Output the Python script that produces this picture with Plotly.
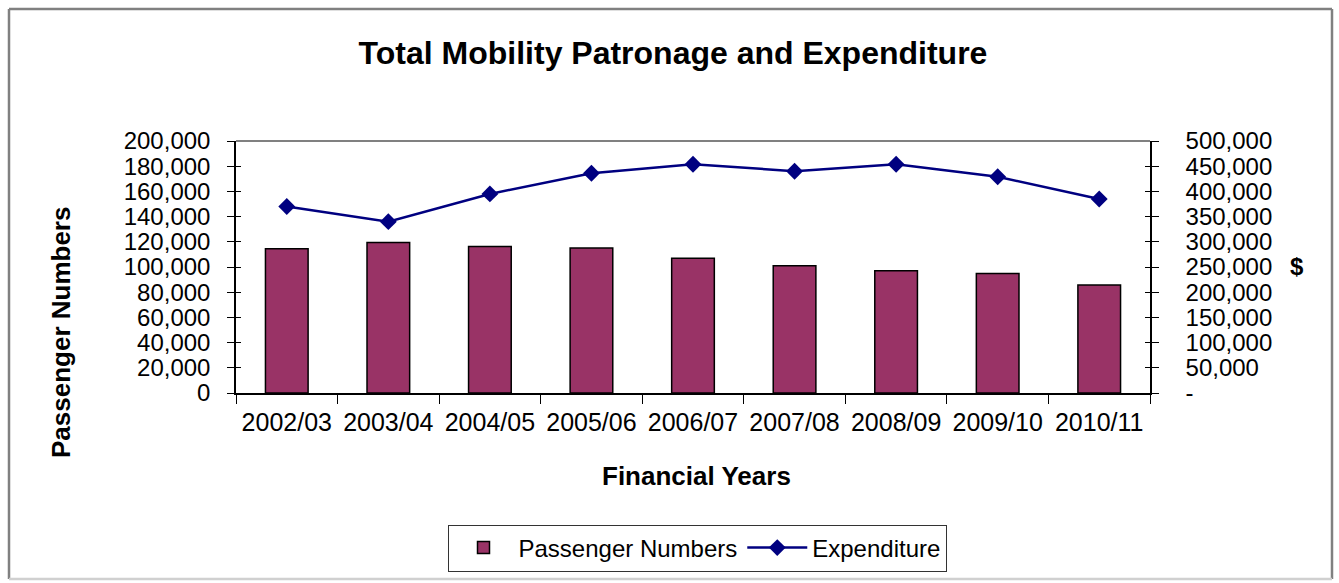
import plotly.graph_objects as go

# ---- data ----
years = ["2002/03", "2003/04", "2004/05", "2005/06", "2006/07",
         "2007/08", "2008/09", "2009/10", "2010/11"]
passengers = [114500, 119500, 116300, 115000, 107000, 101000, 97000, 94800, 85800]
expenditure = [370000, 340000, 395000, 436000, 454000, 440000, 454000, 429000, 385000]

left_ticks = list(range(0, 200001, 20000))
left_ticktext = [f"{v:,}" for v in left_ticks]
right_ticks = list(range(0, 500001, 50000))
right_ticktext = ["-"] + [f"{v:,}" for v in right_ticks[1:]]

# ---- layout geometry (pixels) ----
W, H = 1339, 583
PL, PR, PT, PB = 236, 1150, 141, 393


def px2x(px):
    return (px - PL) / (PR - PL)


def px2y(py):
    return (PB - py) / (PB - PT)


FONT = "Liberation Sans, Arial, sans-serif"

fig = go.Figure()
fig.add_trace(go.Bar(
    x=years, y=passengers, name="Passenger Numbers",
    marker=dict(color="#993366", line=dict(color="black", width=1.5)),
    yaxis="y",
))
fig.add_trace(go.Scatter(
    x=years, y=expenditure, name="Expenditure", mode="lines+markers",
    line=dict(color="#000080", width=2.5),
    marker=dict(symbol="diamond", size=13, color="#000080"),
    yaxis="y2",
))

common_y = dict(showline=True, linecolor="black", linewidth=1.5,
                tickcolor="black", tickwidth=1.2,
                tickfont=dict(size=24), showgrid=False, zeroline=False)

fig.update_layout(
    width=W, height=H,
    margin=dict(l=PL, r=W - PR, t=PT, b=H - PB, pad=0),
    paper_bgcolor="white", plot_bgcolor="white",
    font=dict(family=FONT, size=24, color="black"),
    bargap=0.58,
    title=dict(text="<b>Total Mobility Patronage and Expenditure</b>",
               font=dict(family=FONT, size=32, color="black"),
               xref="container", x=673 / W, xanchor="center",
               yref="container", y=1 - 53 / H, yanchor="middle"),
    xaxis=dict(type="category", range=[-0.5, 8.5],
               showline=True, linecolor="black", linewidth=1.5,
               ticks="outside", tickson="boundaries", ticklen=9,
               tickcolor="black", tickwidth=1.2, ticklabelstandoff=6,
               tickangle=0,
               tickfont=dict(size=25), showgrid=False, zeroline=False),
    yaxis=dict(range=[0, 200000], tickvals=left_ticks, ticktext=left_ticktext,
               ticks="outside", ticklen=7, ticklabelstandoff=12, **common_y),
    yaxis2=dict(range=[0, 500000], tickvals=right_ticks, ticktext=right_ticktext,
                overlaying="y", side="right",
                ticks="outside", ticklen=7, ticklabelstandoff=22, **common_y),
    # inside halves of the crossing tick marks
    yaxis3=dict(range=[0, 200000], tickvals=left_ticks, overlaying="y", side="left",
                anchor="x", ticks="inside", ticklen=5, showticklabels=False,
                showline=False, tickcolor="black", tickwidth=1.2,
                showgrid=False, zeroline=False),
    yaxis4=dict(range=[0, 500000], tickvals=right_ticks, overlaying="y", side="right",
                anchor="x", ticks="inside", ticklen=5, showticklabels=False,
                showline=False, tickcolor="black", tickwidth=1.2,
                showgrid=False, zeroline=False),
    legend=dict(orientation="h", x=px2x(697), xanchor="center",
                y=px2y(548), yanchor="middle",
                bordercolor="#333333", borderwidth=1, bgcolor="white",
                font=dict(size=24), itemwidth=60, traceorder="normal"),
    showlegend=True,
)

# empty helper traces so the tick-only overlay axes are drawn
fig.add_trace(go.Scatter(x=[], y=[], yaxis="y3", showlegend=False, hoverinfo="skip"))
fig.add_trace(go.Scatter(x=[], y=[], yaxis="y4", showlegend=False, hoverinfo="skip"))

# top border of plot area
fig.add_shape(type="line", xref="paper", yref="paper", x0=0, x1=1, y0=1, y1=1,
              line=dict(color="#808080", width=2))

# outer chart frame
fr_l, fr_r, fr_t, fr_b = 9, 1332, 9, 579
for (x0, y0, x1, y1, c) in [
    (fr_l, fr_t, fr_r, fr_t, "#808080"),
    (fr_l, fr_t, fr_l, fr_b, "#808080"),
    (fr_r, fr_t, fr_r, fr_b, "#808080"),
    (fr_l, fr_b, fr_r, fr_b, "#d0d0d0"),
]:
    fig.add_shape(type="line", xref="paper", yref="paper",
                  x0=px2x(x0), x1=px2x(x1), y0=px2y(y0), y1=px2y(y1),
                  line=dict(color=c, width=2.5))

# axis titles
fig.add_annotation(text="<b>Financial Years</b>", xref="paper", yref="paper",
                   x=px2x(696), y=px2y(476), showarrow=False,
                   xanchor="center", yanchor="middle",
                   font=dict(family=FONT, size=26, color="black"))
fig.add_annotation(text="<b>Passenger Numbers</b>", xref="paper", yref="paper",
                   x=px2x(61), y=px2y(333), showarrow=False, textangle=-90,
                   xanchor="center", yanchor="middle",
                   font=dict(family=FONT, size=26, color="black"))
fig.add_annotation(text="<b>$</b>", xref="paper", yref="paper",
                   x=px2x(1297), y=px2y(266), showarrow=False,
                   xanchor="center", yanchor="middle",
                   font=dict(family=FONT, size=24, color="black"))

fig.write_html("out.html")
